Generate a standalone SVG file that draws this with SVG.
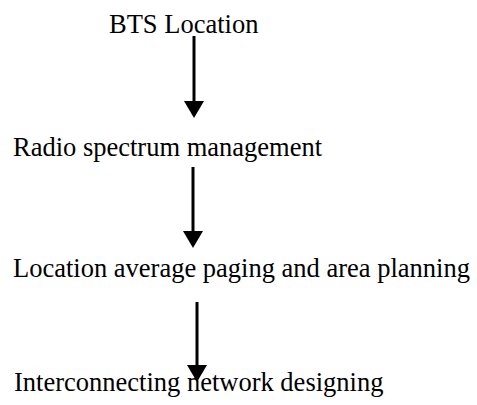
<svg xmlns="http://www.w3.org/2000/svg" width="477" height="405" viewBox="0 0 477 405">
<style>
  .lbl { font-family: "Liberation Serif", "Times New Roman", serif; font-size: 26.5px; fill: #000; }
  .conn { stroke: #000; stroke-width: 3; fill: none; }
  .head { fill: #000; stroke: none; }
</style>
<rect width="477" height="405" fill="#fff"/>
<g id="n1"><text class="lbl" x="109" y="33">BTS Location</text></g>
<g id="n2"><text class="lbl" x="13" y="156">Radio spectrum management</text></g>
<g id="n3"><text class="lbl" x="13" y="277">Location average paging and area planning</text></g>
<g id="n4"><text class="lbl" x="14" y="391">Interconnecting network designing</text></g>
<g id="connectors">
  <line class="conn" x1="194" y1="36" x2="194" y2="102"/>
  <polygon class="head" points="184,101 204,101 194,118"/>
  <line class="conn" x1="193" y1="167" x2="193" y2="232"/>
  <polygon class="head" points="183,231 203,231 193,248"/>
  <line class="conn" x1="197" y1="302" x2="197" y2="366"/>
  <polygon class="head" points="187,365 207,365 197,382"/>
</g>
</svg>
